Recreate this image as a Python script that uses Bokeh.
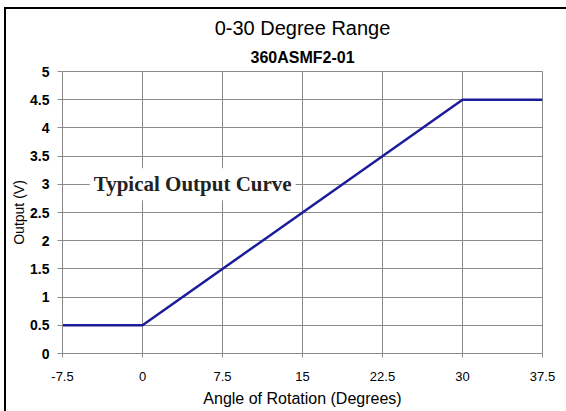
from bokeh.plotting import figure
from bokeh.models import Label, FixedTicker, Range1d, Title
from bokeh.embed import file_html
from bokeh.resources import INLINE

# Data
angle = [-7.5, 0, 30, 37.5]
output_v = [0.5, 0.5, 4.5, 4.5]
x_ticks = [-7.5, 0, 7.5, 15, 22.5, 30, 37.5]
x_tick_labels = ["-7.5", "0", "7.5", "15", "22.5", "30", "37.5"]
y_ticks = [0, 0.5, 1, 1.5, 2, 2.5, 3, 3.5, 4, 4.5, 5]
y_tick_labels = ["0", "0.5", "1", "1.5", "2", "2.5", "3", "3.5", "4", "4.5", "5"]
title_text = "0-30 Degree Range"
subtitle_text = "360ASMF2-01"
annotation_text = "Typical Output Curve"

SANS = "Liberation Sans"
GRID = "#8a8a8a"

p = figure(width=566, height=411, output_backend="svg", toolbar_location=None,
           x_range=Range1d(-7.5, 37.5), y_range=Range1d(0, 5),
           min_border_left=62, min_border_right=24, min_border_top=71, min_border_bottom=58)
p.styles = {
    "position": "fixed", "top": "0px", "left": "0px",
    "background": "linear-gradient(#000,#000) 4px 7px / 2px 100% no-repeat, "
                  "linear-gradient(#000,#000) 4px 7px / 100% 2px no-repeat, #fff",
}
p.background_fill_color = "white"
p.border_fill_alpha = 0
p.outline_line_color = GRID
p.outline_line_width = 1

p.xaxis.ticker = FixedTicker(ticks=x_ticks)
p.yaxis.ticker = FixedTicker(ticks=y_ticks)
p.xaxis.major_label_overrides = {t: l for t, l in zip(x_ticks, x_tick_labels)}
p.yaxis.major_label_overrides = {t: l for t, l in zip(y_ticks, y_tick_labels)}

for ax in (p.xaxis[0], p.yaxis[0]):
    ax.axis_line_color = GRID
    ax.major_tick_line_color = GRID
    ax.minor_tick_line_color = None
    ax.major_tick_in = 0
    ax.major_label_text_font = SANS
    ax.major_label_text_color = "black"
    ax.axis_label_text_font = SANS
    ax.axis_label_text_font_style = "normal"
    ax.axis_label_text_color = "black"

p.xaxis.major_tick_out = 4
p.yaxis.major_tick_out = 5
p.xaxis.major_label_text_font_size = "13px"
p.yaxis.major_label_text_font_size = "14px"
p.yaxis.major_label_text_font_style = "bold"
p.xaxis.major_label_standoff = 14
p.yaxis.major_label_standoff = 8
p.xaxis.axis_label = "Angle of Rotation (Degrees)"
p.yaxis.axis_label = "Output (V)"
p.xaxis.axis_label_text_font_size = "16px"
p.yaxis.axis_label_text_font_size = "14px"
p.xaxis.axis_label_standoff = 6
p.yaxis.axis_label_standoff = 0

p.xgrid.grid_line_color = GRID
p.ygrid.grid_line_color = GRID
p.xgrid.ticker = FixedTicker(ticks=x_ticks)
p.ygrid.ticker = FixedTicker(ticks=y_ticks)

p.line(angle, output_v, line_color="#1c1c9c", line_width=2.5)

p.add_layout(Title(text=subtitle_text, align="center", vertical_align="top", text_font=SANS,
                   text_font_size="16px", text_font_style="bold", text_color="black",
                   standoff=8), "above")
p.add_layout(Title(text=title_text, align="center", vertical_align="top", text_font=SANS,
                   text_font_size="20px", text_font_style="normal", text_color="black",
                   standoff=5.5), "above")
p.add_layout(Label(x=-4.95, y=3, text=annotation_text, text_align="left", text_baseline="middle",
                   text_font="Liberation Serif", text_font_size="21px", text_font_style="bold",
                   text_color="#222222", background_fill_color="white", padding=4))

open("out.html", "w").write(file_html(p, INLINE))
